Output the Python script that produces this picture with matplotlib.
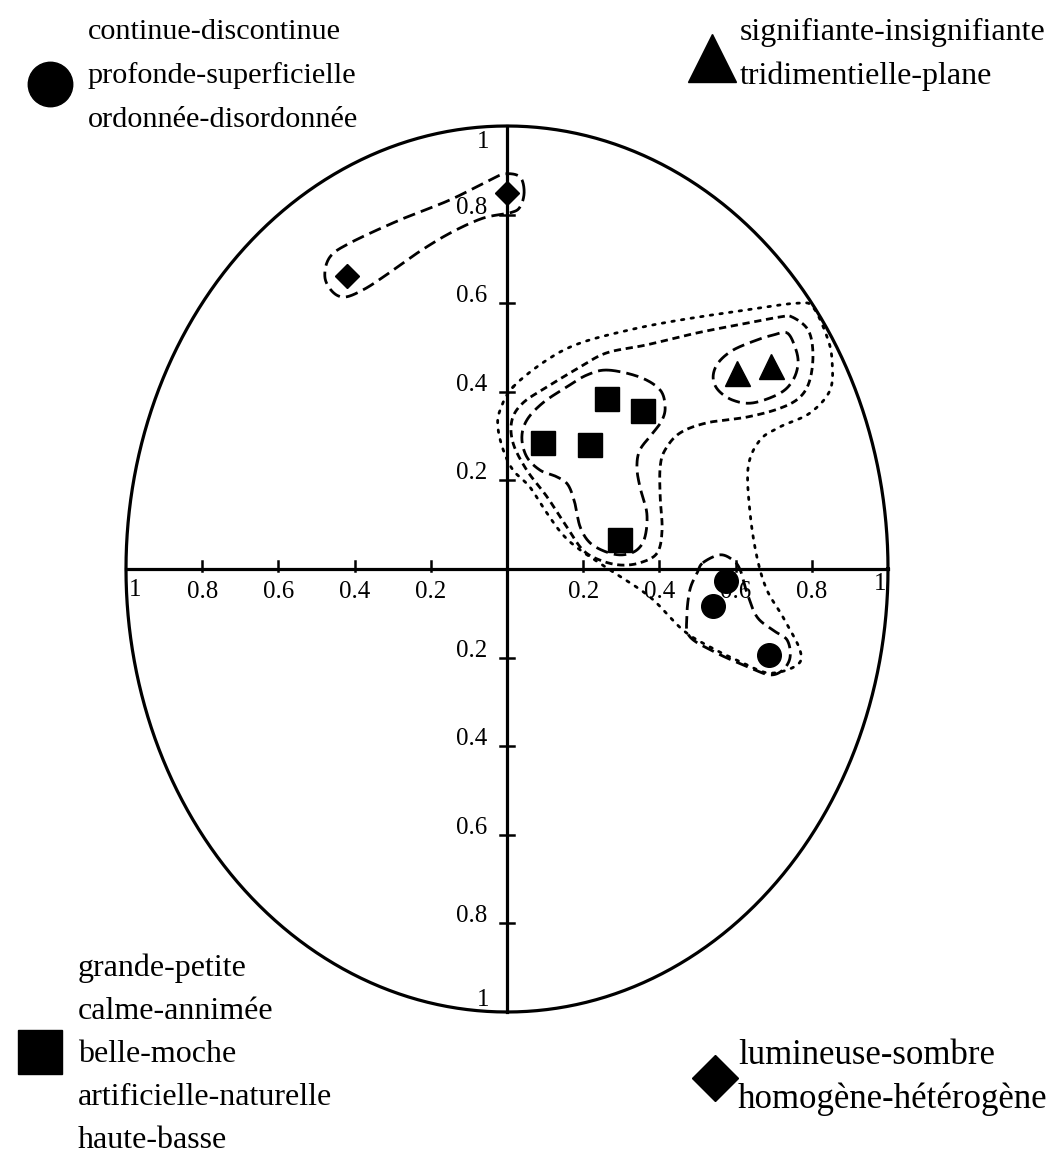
import numpy as np
import matplotlib
matplotlib.use("Agg")
import matplotlib.pyplot as plt

plt.rcParams['font.family'] = ['Liberation Serif', 'DejaVu Serif']

# --- variable coordinates on the first two factorial axes ---
circles_x = [0.574, 0.540, 0.687]
circles_y = [-0.026, -0.084, -0.195]
squares_x = [0.095, 0.218, 0.263, 0.357, 0.297]
squares_y = [0.284, 0.280, 0.384, 0.357, 0.066]
triangles_x = [0.603, 0.692]
triangles_y = [0.443, 0.459]
diamonds_x = [0.0, -0.42]
diamonds_y = [0.848, 0.661]

tick_values = [0.2, 0.4, 0.6, 0.8]
tick_labels = ["0.2", "0.4", "0.6", "0.8"]

legend_circle = ["continue-discontinue", "profonde-superficielle", "ordonnée-disordonnée"]
legend_triangle = ["signifiante-insignifiante", "tridimentielle-plane"]
legend_square = ["grande-petite", "calme-annimée", "belle-moche",
                 "artificielle-naturelle", "haute-basse"]
legend_diamond = ["lumineuse-sombre", "homogène-hétérogène"]

# --- group outlines (closed, smoothed) ---
diamond_hull = np.array([
    (0.045, 0.851), (0.034, 0.885), (-0.005, 0.892), (-0.045, 0.878),
    (-0.150, 0.833), (-0.281, 0.788), (-0.412, 0.736), (-0.465, 0.704),
    (-0.478, 0.659), (-0.457, 0.625), (-0.425, 0.614), (-0.378, 0.630),
    (-0.325, 0.659), (-0.236, 0.713), (-0.150, 0.758), (-0.063, 0.792),
    (0.008, 0.804), (0.034, 0.817)])
square_hull = np.array([
    (0.265, 0.449), (0.349, 0.433), (0.402, 0.404), (0.415, 0.366),
    (0.407, 0.336), (0.383, 0.307), (0.349, 0.269), (0.341, 0.230),
    (0.349, 0.185), (0.367, 0.126), (0.362, 0.072), (0.341, 0.043),
    (0.304, 0.032), (0.262, 0.038), (0.218, 0.059), (0.192, 0.095),
    (0.178, 0.149), (0.160, 0.190), (0.131, 0.208), (0.087, 0.223),
    (0.052, 0.253), (0.039, 0.296), (0.052, 0.336), (0.094, 0.375),
    (0.157, 0.411), (0.210, 0.438)])
triangle_hull = np.array([
    (0.735, 0.533), (0.756, 0.501), (0.764, 0.465), (0.751, 0.427),
    (0.717, 0.397), (0.646, 0.375), (0.593, 0.381), (0.554, 0.404),
    (0.541, 0.433), (0.554, 0.465), (0.593, 0.494), (0.656, 0.517),
    (0.698, 0.528)])
circle_hull = np.array([
    (0.514, 0.014), (0.559, 0.032), (0.593, 0.020), (0.612, -0.002),
    (0.630, -0.054), (0.656, -0.108), (0.698, -0.138), (0.735, -0.160),
    (0.743, -0.199), (0.724, -0.228), (0.690, -0.239), (0.638, -0.223),
    (0.551, -0.190), (0.480, -0.153), (0.472, -0.108), (0.480, -0.047),
    (0.499, -0.009)])
middle_hull = np.array([
    (0.748, 0.569), (0.790, 0.540), (0.803, 0.488), (0.795, 0.427),
    (0.769, 0.388), (0.717, 0.363), (0.630, 0.343), (0.525, 0.330),
    (0.454, 0.307), (0.415, 0.269), (0.402, 0.230), (0.402, 0.163),
    (0.407, 0.088), (0.394, 0.036), (0.349, 0.014), (0.297, 0.009),
    (0.244, 0.020), (0.199, 0.043), (0.157, 0.095), (0.105, 0.163),
    (0.052, 0.223), (0.016, 0.284), (0.013, 0.336), (0.042, 0.375),
    (0.105, 0.411), (0.192, 0.456), (0.262, 0.488), (0.367, 0.506),
    (0.499, 0.533), (0.630, 0.555), (0.717, 0.569)])
outer_hull = np.array([
    (0.016, 0.411), (0.105, 0.472), (0.192, 0.510), (0.323, 0.540),
    (0.454, 0.562), (0.630, 0.585), (0.761, 0.600), (0.803, 0.591),
    (0.840, 0.524), (0.853, 0.472), (0.848, 0.404), (0.795, 0.352),
    (0.717, 0.321), (0.664, 0.291), (0.633, 0.230), (0.638, 0.126),
    (0.656, 0.027), (0.682, -0.047), (0.724, -0.108), (0.769, -0.183),
    (0.761, -0.217), (0.690, -0.235), (0.619, -0.212), (0.533, -0.176),
    (0.462, -0.138), (0.375, -0.063), (0.270, -0.002), (0.192, 0.043),
    (0.147, 0.077), (0.105, 0.126), (0.060, 0.185), (0.016, 0.223),
    (-0.010, 0.269), (-0.024, 0.321), (-0.018, 0.359)])


def smooth_closed(pts, n=24):
    """Closed Catmull-Rom curve through the given vertices."""
    N = len(pts)
    t = np.linspace(0, 1, n, endpoint=False)[:, None]
    segs = []
    for i in range(N):
        p0, p1, p2, p3 = pts[i - 1], pts[i], pts[(i + 1) % N], pts[(i + 2) % N]
        segs.append(0.5 * (2 * p1 + (-p0 + p2) * t
                           + (2 * p0 - 5 * p1 + 4 * p2 - p3) * t ** 2
                           + (-p0 + 3 * p1 - 3 * p2 + p3) * t ** 3))
    c = np.vstack(segs)
    return np.vstack([c, c[:1]])


W, H = 1055, 1153
CX, CY, RX, RY = 507, 569, 381, 443   # circle centre and radii in pixels

fig = plt.figure(figsize=(W / 100, H / 100), dpi=100)
ax = fig.add_axes([0, 0, 1, 1])
ax.set_xlim(-CX / RX, (W - CX) / RX)
ax.set_ylim((CY - H) / RY, CY / RY)
ax.axis('off')

ink = 'black'
lw_main = 2.3

# correlation circle and axes
th = np.linspace(0, 2 * np.pi, 721)
ax.plot(np.cos(th), np.sin(th), color=ink, lw=lw_main)
ax.plot([-1, 1], [0, 0], color=ink, lw=lw_main)
ax.plot([0, 0], [-1, 1], color=ink, lw=lw_main)

px_x = 1.0 / RX
px_y = 1.0 / RY
for v in tick_values:
    for s in (-1, 1):
        ax.plot([s * v, s * v], [-2 * px_y, 8 * px_y], color=ink, lw=1.8)
        ax.plot([-7 * px_x, 7 * px_x], [s * v, s * v], color=ink, lw=1.8)

tfs = 18
for v, lab in zip(tick_values, tick_labels):
    for s in (-1, 1):
        ax.text(s * v, -12 * px_y, lab, ha='center', va='top', fontsize=tfs)
        ax.text(-20 * px_x, s * v + 1 * px_y, lab, ha='right', va='baseline', fontsize=tfs)
ax.text(-1 + 9 * px_x, -10 * px_y, "1", ha='center', va='top', fontsize=tfs)
ax.text(1 - 8 * px_x, -4 * px_y, "1", ha='center', va='top', fontsize=tfs)
ax.text(-24 * px_x, 1 - 5 * px_y, "1", ha='center', va='top', fontsize=tfs)
ax.text(-24 * px_x, -1 + 6 * px_y, "1", ha='center', va='baseline', fontsize=tfs)

# group outlines
long_dash = (0, (4.5, 2.2))
short_dash = (0, (2.6, 1.7))
dots = (0, (0.9, 2.6))
for hull in (diamond_hull, square_hull, triangle_hull, circle_hull):
    c = smooth_closed(hull)
    ax.plot(c[:, 0], c[:, 1], color=ink, lw=2.0, linestyle=long_dash)
c = smooth_closed(middle_hull)
ax.plot(c[:, 0], c[:, 1], color=ink, lw=2.0, linestyle=short_dash)
c = smooth_closed(outer_hull)
ax.plot(c[:, 0], c[:, 1], color=ink, lw=2.0, linestyle=dots, dash_capstyle='round')

# variables
ax.plot(circles_x, circles_y, 'o', color=ink, ms=17, ls='none')
ax.plot(squares_x, squares_y, 's', color=ink, ms=17, ls='none')
ax.plot(triangles_x, triangles_y, '^', color=ink, ms=18, ls='none')
ax.plot(diamonds_x, diamonds_y, 'D', color=ink, ms=12, ls='none')


# legend blocks
def fpos(x, y):
    return x / W, 1 - y / H


def block(lines, x, y0, step, size):
    for i, t in enumerate(lines):
        fig.text(*fpos(x, y0 + i * step), t, fontsize=size, va='baseline', ha='left')


def symbol(marker, x, y, size):
    fig.lines.append(plt.Line2D(*zip(fpos(x, y)), marker=marker, ms=size, color=ink,
                                transform=fig.transFigure, ls='none'))


block(legend_circle, 88, 39, 44, 21.8)
symbol('o', 50, 84, 32)
block(legend_triangle, 740, 40, 44, 23)
symbol('^', 712, 58, 34)
block(legend_square, 78, 976, 43, 23)
symbol('s', 40, 1052, 32)
block(legend_diamond, 738, 1064, 44, 25)
symbol('D', 715, 1078, 23)

fig.savefig("out.png", dpi=100)
